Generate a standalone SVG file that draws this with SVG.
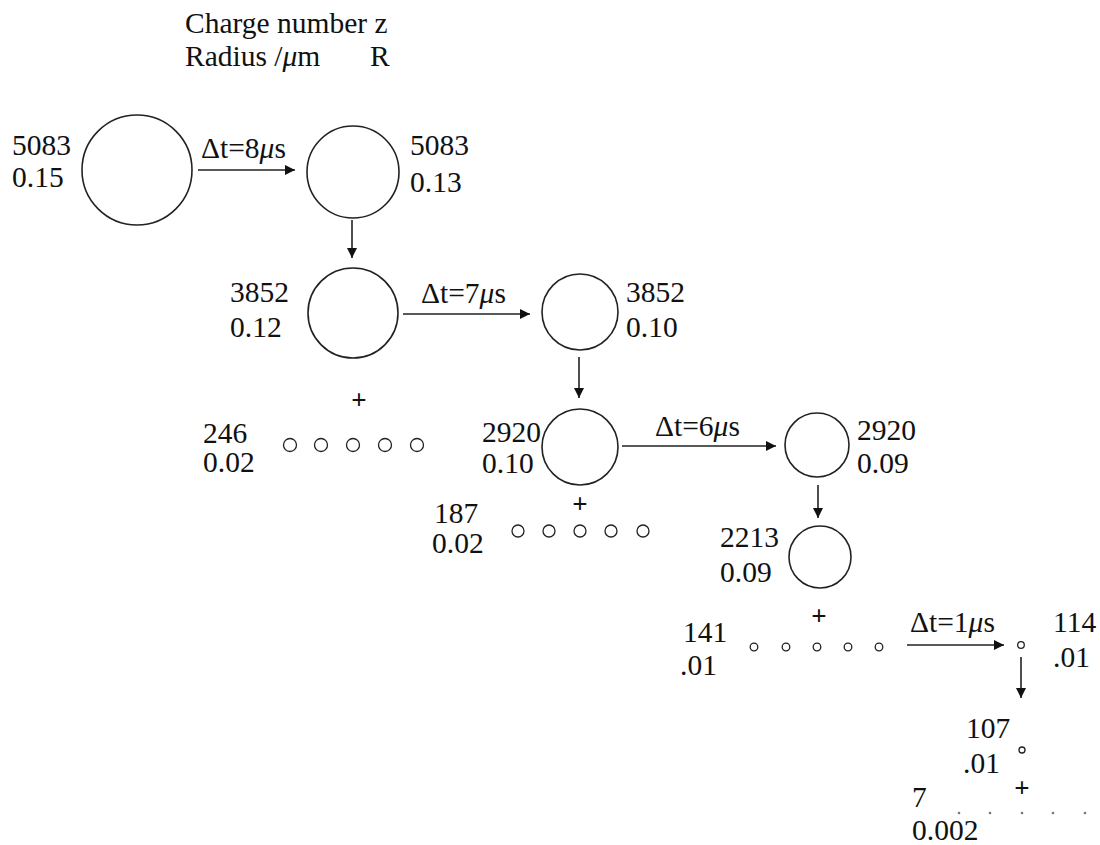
<svg xmlns="http://www.w3.org/2000/svg" width="1100" height="845" viewBox="0 0 1100 845">
<defs>
<style>
text{font-family:"Liberation Serif","Times New Roman",serif;font-size:29.5px;fill:#111}
.pl{font-size:27px;font-weight:bold}
circle{fill:none;stroke:#222;stroke-width:1.6}
.s{stroke-width:1.3}
line{stroke:#222;stroke-width:1.6}
.dot{fill:#777;stroke:none}
</style>
<marker id="ah" viewBox="0 0 10 10" refX="10" refY="5" markerWidth="12" markerHeight="10" markerUnits="userSpaceOnUse" orient="auto"><path d="M0,0 L10,5 L0,10 z" fill="#111"/></marker>
</defs>
<rect width="1100" height="845" fill="#fff"/>
<g id="header">
<text x="185" y="33">Charge number z</text>
<text x="185" y="66">Radius /<tspan font-style="italic">μ</tspan>m</text>
<text x="370" y="66">R</text>
</g>
<g id="connectors">
<line x1="198" y1="170" x2="295" y2="170" marker-end="url(#ah)"/>
<text x="201" y="158">Δt=8<tspan font-style="italic">μ</tspan>s</text>
<line x1="352" y1="220" x2="352" y2="258" marker-end="url(#ah)"/>
<line x1="403" y1="314" x2="530" y2="314" marker-end="url(#ah)"/>
<text x="421" y="303">Δt=7<tspan font-style="italic">μ</tspan>s</text>
<line x1="579" y1="357" x2="579" y2="398" marker-end="url(#ah)"/>
<line x1="622" y1="446" x2="776" y2="446" marker-end="url(#ah)"/>
<text x="655" y="436">Δt=6<tspan font-style="italic">μ</tspan>s</text>
<line x1="818" y1="485" x2="818" y2="518" marker-end="url(#ah)"/>
<line x1="907" y1="645" x2="1004" y2="645" marker-end="url(#ah)"/>
<text x="910" y="632">Δt=1<tspan font-style="italic">μ</tspan>s</text>
<line x1="1021" y1="657" x2="1021" y2="698" marker-end="url(#ah)"/>
</g>
<g id="n1">
<circle cx="137" cy="170" r="55"/>
<text x="12" y="155">5083</text>
<text x="12" y="187">0.15</text>
</g>
<g id="n2">
<circle cx="353" cy="172" r="46"/>
<text x="410" y="155">5083</text>
<text x="410" y="192">0.13</text>
</g>
<g id="n3">
<circle cx="353" cy="313" r="45"/>
<text x="230" y="302">3852</text>
<text x="230" y="337">0.12</text>
</g>
<g id="n4">
<circle cx="580" cy="312" r="38"/>
<text x="626" y="302">3852</text>
<text x="626" y="337">0.10</text>
</g>
<g id="n5">
<text class="pl" x="359" y="409" text-anchor="middle">+</text>
<circle class="s" cx="290" cy="445" r="6.5"/>
<circle class="s" cx="321" cy="445" r="6.5"/>
<circle class="s" cx="353" cy="445" r="6.5"/>
<circle class="s" cx="385" cy="445" r="6.5"/>
<circle class="s" cx="417" cy="445" r="6.5"/>
<text x="203" y="443">246</text>
<text x="203" y="472">0.02</text>
</g>
<g id="n6">
<circle cx="580" cy="447" r="38"/>
<text x="482" y="442">2920</text>
<text x="482" y="473">0.10</text>
</g>
<g id="n7">
<circle cx="817" cy="445" r="32"/>
<text x="857" y="440">2920</text>
<text x="857" y="473">0.09</text>
</g>
<g id="n8">
<text class="pl" x="580" y="513" text-anchor="middle">+</text>
<circle class="s" cx="518" cy="531" r="6"/>
<circle class="s" cx="549" cy="531" r="6"/>
<circle class="s" cx="580" cy="531" r="6"/>
<circle class="s" cx="611" cy="531" r="6"/>
<circle class="s" cx="643" cy="531" r="6"/>
<text x="434" y="523">187</text>
<text x="432" y="553">0.02</text>
</g>
<g id="n9">
<circle cx="820" cy="557" r="31"/>
<text x="720" y="547">2213</text>
<text x="720" y="582">0.09</text>
</g>
<g id="n10">
<text class="pl" x="819" y="625" text-anchor="middle">+</text>
<circle class="s" cx="754" cy="647" r="3.8"/>
<circle class="s" cx="786" cy="647" r="3.8"/>
<circle class="s" cx="817" cy="647" r="3.8"/>
<circle class="s" cx="848" cy="647" r="3.8"/>
<circle class="s" cx="879" cy="647" r="3.8"/>
<text x="683" y="642">141</text>
<text x="680" y="675">.01</text>
</g>
<g id="n11">
<circle class="s" cx="1021" cy="645" r="3.3"/>
<text x="1053" y="632">114</text>
<text x="1053" y="667">.01</text>
</g>
<g id="n12">
<circle class="s" cx="1022" cy="750" r="3"/>
<text x="966" y="738">107</text>
<text x="963" y="773">.01</text>
</g>
<g id="n13">
<text class="pl" x="1022" y="797" text-anchor="middle">+</text>
<circle class="dot" cx="959" cy="813" r="1.3"/>
<circle class="dot" cx="990" cy="813" r="1.3"/>
<circle class="dot" cx="1022" cy="813" r="1.3"/>
<circle class="dot" cx="1053" cy="813" r="1.3"/>
<circle class="dot" cx="1085" cy="813" r="1.3"/>
<text x="912" y="807">7</text>
<text x="912" y="840">0.002</text>
</g>
</svg>
